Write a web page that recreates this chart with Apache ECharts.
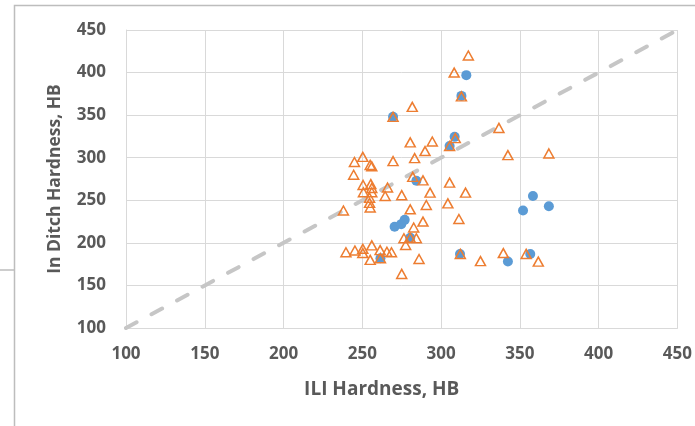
<!DOCTYPE html>
<html>
<head>
<meta charset="utf-8">
<script src="https://cdn.jsdelivr.net/npm/echarts@6/dist/echarts.min.js"></script>
<style>
html,body{margin:0;padding:0;background:#fff;}
#chart{width:695px;height:426px;}
</style>
</head>
<body>
<div id="chart"></div>
<script>
// ILI hardness (x) vs In Ditch hardness (y)
var circleX = [269.5, 312.9, 316, 308.6, 305.4, 284.3, 270.5, 274.7, 276.9, 280.4, 261.5, 312, 342.4, 356.6, 352, 358.3, 368.4];
var circleY = [348, 372.6, 397, 324.5, 313.7, 273, 219, 222, 227, 206, 182, 187, 178, 187, 238, 255, 243];

var triangleX = [317.3, 308.3, 312.9, 269.5, 281.7, 336.7, 280.4, 294.4, 309, 305.4, 342.4, 368.4, 289.8, 283.2, 250.3, 245, 269.5, 255, 256, 244.5, 282, 288.5, 305.4, 250.5, 255.4, 256, 266, 250.7, 256, 264.5, 275, 293, 315.5, 254.6, 254.6, 255, 304.3, 290.6, 280.4, 238, 311.3, 288.5, 282.6, 276.4, 284.3, 280.4, 277.5, 239.6, 245.3, 250.3, 250.3, 256, 255, 261.5, 261.3, 265.6, 268.5, 275, 286, 312.2, 325, 339.5, 354, 361.7];
var triangleY = [420, 400, 372, 348, 359.7, 335, 318, 319, 323, 313.7, 303, 305, 307.8, 299.5, 301, 295, 296, 291.5, 290, 280, 277.5, 273.4, 270.7, 268, 269, 264.5, 265, 259.4, 259.4, 255, 256, 259, 259, 253, 247, 241.5, 246.4, 244.5, 239.4, 238, 228, 225, 218, 205.4, 205.4, 206, 197.5, 189, 191, 193, 188, 197, 180, 182, 191.5, 189.5, 189, 163.5, 181, 187, 178.5, 188, 187, 178];

var refLineX = [100, 450];
var refLineY = [100, 450];

var axisTicks = [100, 150, 200, 250, 300, 350, 400, 450];

function zip(a, b) { return a.map(function (v, i) { return [v, b[i]]; }); }

var chart = echarts.init(document.getElementById('chart'), null, {renderer: 'canvas'});
var labelStyle = {color: '#595959', fontFamily: 'Open Sans', fontWeight: 'bold', fontSize: 17};
chart.setOption({
  animation: false,
  backgroundColor: '#ffffff',
  grid: {left: 126, right: 17, top: 30, bottom: 98, containLabel: false},
  xAxis: {
    type: 'value', min: axisTicks[0], max: axisTicks[axisTicks.length - 1], interval: 50,
    name: 'ILI Hardness, HB', nameLocation: 'middle', nameGap: 52,
    nameTextStyle: {color: '#595959', fontFamily: 'Open Sans', fontWeight: 'bold', fontSize: 19, padding: [0, 40, 0, 0]},
    axisLine: {show: true, lineStyle: {color: '#D9D9D9', width: 1}},
    axisTick: {show: false},
    axisLabel: Object.assign({margin: 18}, labelStyle),
    splitLine: {show: true, lineStyle: {color: '#D9D9D9', width: 1}}
  },
  yAxis: {
    type: 'value', min: axisTicks[0], max: axisTicks[axisTicks.length - 1], interval: 50,
    name: 'In Ditch Hardness, HB', nameLocation: 'middle', nameGap: 62,
    nameTextStyle: {color: '#595959', fontFamily: 'Open Sans', fontWeight: 'bold', fontSize: 17.5},
    axisLine: {show: true, lineStyle: {color: '#D9D9D9', width: 1}},
    axisTick: {show: false},
    axisLabel: Object.assign({margin: 20}, labelStyle),
    splitLine: {show: true, lineStyle: {color: '#D9D9D9', width: 1}}
  },
  graphic: [
    {type: 'polyline', silent: true, z: 100, shape: {points: [[14.5, 426], [14.5, 5.5], [695, 5.5]]}, style: {stroke: '#BDBDBD', lineWidth: 1.5, fill: null}},
    {type: 'line', silent: true, z: 100, shape: {x1: 0, y1: 270, x2: 14, y2: 270}, style: {stroke: '#BDBDBD', lineWidth: 1.5}}
  ],
  series: [
    {
      type: 'line', data: zip(refLineX, refLineY), symbol: 'none', z: 1,
      lineStyle: {color: '#C6C6C6', width: 4, type: [12, 17], cap: 'round'}
    },
    {
      type: 'scatter', data: zip(circleX, circleY), symbol: 'circle', symbolSize: 10, z: 2,
      itemStyle: {color: '#5B9BD5', opacity: 1}
    },
    {
      type: 'scatter', data: zip(triangleX, triangleY), symbol: 'triangle', symbolSize: [10, 9], z: 3,
      itemStyle: {color: 'rgba(255,255,255,0)', borderColor: '#ED7D31', borderWidth: 1.5, opacity: 1}
    }
  ]
});
</script>
</body>
</html>
